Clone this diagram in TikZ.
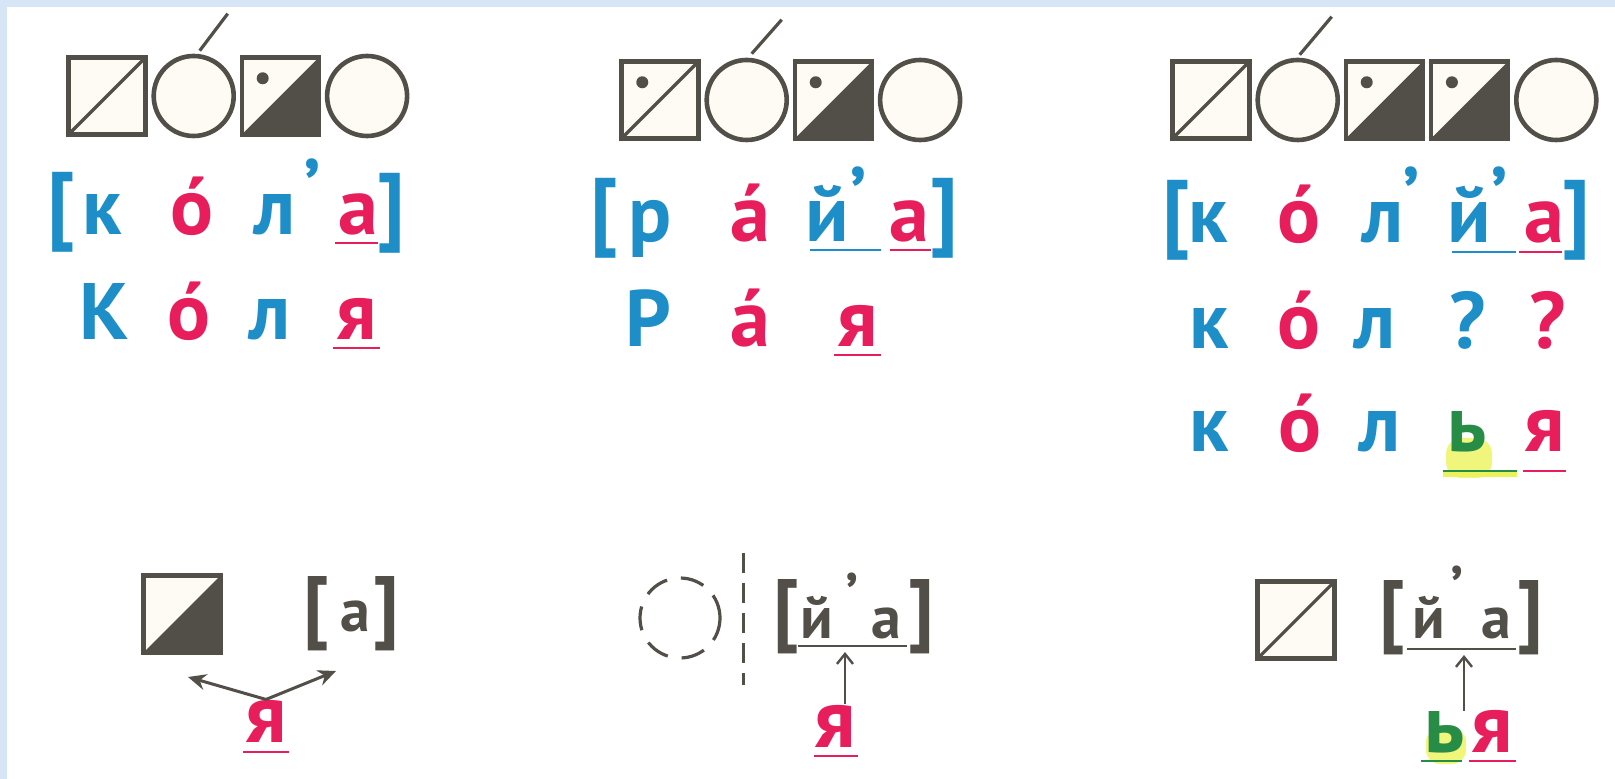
\documentclass[tikz,border=0pt]{standalone}
\usepackage{fontspec}
\setmainfont{PT Sans}
\usepackage{tikz}
\usetikzlibrary{calc,positioning,arrows.meta}
\definecolor{myblue}{RGB}{30,142,200}
\definecolor{myred}{RGB}{232,30,92}
\definecolor{mygreen}{RGB}{38,140,70}
\definecolor{myyellow}{RGB}{236,242,90}
\definecolor{mygray}{RGB}{82,78,72}
\definecolor{mycream}{RGB}{253,251,243}
\definecolor{lightblue}{RGB}{214,230,247}

\tikzset{
  cons/.style={draw=mygray, line width=2.3pt, fill=mycream, minimum size=38.5pt, inner sep=0pt},
  consl/.style={cons, path picture={\draw[mygray, line width=1.6pt] (path picture bounding box.south west) -- (path picture bounding box.north east);}},
  consd/.style={cons, path picture={\fill[mygray] (path picture bounding box.south west) -- (path picture bounding box.north east) -- (path picture bounding box.south east) -- cycle;}},
  consls/.style={cons, path picture={\draw[mygray, line width=1.6pt] (path picture bounding box.south west) -- (path picture bounding box.north east);
    \fill[mygray] ($(path picture bounding box.north west)!0.27!(path picture bounding box.south east)$) circle (3pt);}},
  consds/.style={cons, path picture={\fill[mygray] (path picture bounding box.south west) -- (path picture bounding box.north east) -- (path picture bounding box.south east) -- cycle;
    \fill[mygray] ($(path picture bounding box.north west)!0.27!(path picture bounding box.south east)$) circle (3pt);}},
  vowc/.style={circle, draw=mygray, line width=2.3pt, fill=mycream, minimum size=40pt, inner sep=0pt},
  vowd/.style={circle, draw=mygray, line width=1.6pt, dash pattern=on 12pt off 7pt, minimum size=40pt, inner sep=0pt},
  stress/.style={draw=mygray, line width=1.6pt},
  ltr/.style={inner sep=0pt, anchor=base, font=\fontsize{40}{42}\selectfont\bfseries},
  lb/.style={ltr, text=myblue},
  lr/.style={ltr, text=myred},
  lg/.style={ltr, text=mygreen},
  brk/.style={inner sep=0pt, text=myblue, font=\fontsize{43}{46}\selectfont\bfseries},
  soft/.style={inner sep=0pt, anchor=north, text=myblue, font=\fontsize{40}{42}\selectfont\bfseries},
  gltr/.style={inner sep=0pt, anchor=base, text=mygray, font=\fontsize{30}{32}\selectfont\bfseries},
  gbrk/.style={inner sep=0pt, text=mygray, font=\fontsize{40}{42}\selectfont\bfseries},
  gsoft/.style={inner sep=0pt, anchor=north, text=mygray, font=\fontsize{30}{32}\selectfont\bfseries},
  bltr/.style={inner sep=0pt, anchor=base, font=\fontsize{41}{44}\selectfont\bfseries},
  uline/.style={line width=1.3pt},
}

\begin{document}
\begin{tikzpicture}[x=0.5pt, y=-0.5pt, >=Stealth]
  \useasboundingbox (0,0) rectangle (1615,779);
  \fill[white] (0,0) rectangle (1615,779);
  \fill[lightblue] (0,0) rectangle (1615,7);
  \fill[lightblue] (0,0) rectangle (7,779);

  % schemes
  \node[consl] (g1a) at (107,96) {};
  \node[vowc, right=1.8pt of g1a] (g1b) {};
  \node[consds, right=1.8pt of g1b] (g1c) {};
  \node[vowc, right=1.8pt of g1c] (g1d) {};
  \draw[stress] ($(g1b.north)+(6,-3)$) -- ++(28,-37);

  \node[consls] (g2a) at (660,100) {};
  \node[vowc, right=1.8pt of g2a] (g2b) {};
  \node[consds, right=1.8pt of g2b] (g2c) {};
  \node[vowc, right=1.8pt of g2c] (g2d) {};
  \draw[stress] ($(g2b.north)+(5,-4)$) -- ++(30,-34);

  \node[consl] (g3a) at (1211,100) {};
  \node[vowc, right=1.8pt of g3a] (g3b) {};
  \node[consds, right=1.8pt of g3b] (g3c) {};
  \node[consds, right=1.8pt of g3c] (g3d) {};
  \node[vowc, right=1.8pt of g3d] (g3e) {};
  \draw[stress] ($(g3b.north)+(2,-3)$) -- ++(32,-38);

  % [к о л'а]  Коля
  \node[brk] (g1l) at (61,212) {[};
  \node[lb] (g1k) at (102,235) {к};
  \node[lr] (g1o) at (192,235) {о́};
  \node[lb] (g1n) at (275,235) {л};
  \node[soft] (g1s) at (312,158) {’};
  \node[lr] (g1v) at (358,235) {а};
  \node[brk] (g1r) at (391,213) {]};
  \draw[uline, myred] (335,243) -- (378,243);
  \node[lb] (w1k) at (104,340) {К};
  \node[lr] (w1o) at (189,340) {о́};
  \node[lb] (w1n) at (270,340) {л};
  \node[lr] (w1y) at (357,340) {я};
  \draw[uline, myred] (333,348) -- (380,348);

  % [р а й'а]  Рая
  \node[brk] (g2l) at (604,218) {[};
  \node[lb] (g2p) at (650,242) {р};
  \node[lr] (g2o) at (750,242) {а́};
  \node[lb] (g2j) at (827,242) {й};
  \node[soft] (g2s) at (858,166) {’};
  \node[lr] (g2v) at (909,242) {а};
  \node[brk] (g2r) at (944,218) {]};
  \draw[uline, myblue] (810,250) -- (881,250);
  \draw[uline, myred] (890,250) -- (931,250);
  \node[lb] (w2p) at (648,347) {Р};
  \node[lr] (w2o) at (750,347) {а́};
  \node[lr] (w2y) at (858,347) {я};
  \draw[uline, myred] (834,355) -- (881,355);

  % [к о л'й'а]  кол??  колья
  \node[brk] (g3l) at (1176,220) {[};
  \node[lb] (g3k) at (1208,243) {к};
  \node[lr] (g3o) at (1299,243) {о́};
  \node[lb] (g3n) at (1383,243) {л};
  \node[soft] (g3s) at (1411,166) {’};
  \node[lb] (g3j) at (1469,243) {й};
  \node[soft] (g3t) at (1499,166) {’};
  \node[lr] (g3v) at (1544,243) {а};
  \node[brk] (g3r) at (1576,220) {]};
  \draw[uline, myblue] (1452,252) -- (1516,252);
  \draw[uline, myred] (1519,252) -- (1562,252);
  \node[lb] (q3k) at (1209,349) {к};
  \node[lr] (q3o) at (1299,349) {о́};
  \node[lb] (q3n) at (1375,349) {л};
  \node[lb] (q3a) at (1468,349) {?};
  \node[lr] (q3b) at (1548,349) {?};
  \fill[myyellow!80, rounded corners=8pt] (1446,438) rectangle (1492,478);
  \node[lb] (w3k) at (1209,452) {к};
  \node[lr] (w3o) at (1300,452) {о́};
  \node[lb] (w3n) at (1380,452) {л};
  \node[lg] (w3m) at (1467,452) {ь};
  \node[lr] (w3y) at (1545,452) {я};
  \draw[line width=3pt, myyellow] (1443,474) -- (1517,474);
  \draw[uline, mygreen] (1443,471) -- (1517,471);
  \draw[uline, myred] (1523,471) -- (1566,471);

  % bottom: я = two sounds
  \node[consd] (b1a) at (182,614) {};
  \node[gbrk] (b1l) at (316,614) {[};
  \node[gltr] (b1v) at (355,632) {а};
  \node[gbrk] (b1r) at (386,614) {]};
  \node[bltr, text=myred] (b1y) at (266,742) {я};
  \draw[uline, myred] (243,752) -- (289,752);
  \coordinate (b1p) at (188,677);
  \coordinate (b1q) at (336,671);
  % arrows
  \draw[->, mygray, line width=1.5pt, >={Stealth[length=9pt,width=8pt]}] (b1y.north) -- (b1p);
  \draw[->, mygray, line width=1.5pt, >={Stealth[length=9pt,width=8pt]}] (b1y.north) -- (b1q);

  % bottom: я after a vowel
  \node[vowd] (b2a) at (680,618) {};
  \draw[mygray, line width=1.5pt, dash pattern=on 10pt off 5pt] (743,553) -- (743,685);
  \node[gbrk] (b2l) at (786,617) {[};
  \node[gltr] (b2j) at (817,639) {й};
  \node[gsoft] (b2s) at (852,573) {’};
  \node[gltr] (b2v) at (886,639) {а};
  \node[gbrk] (b2r) at (921,617) {]};
  \draw[uline, mygray] (798,646) -- (907,646);
  \node[bltr, text=myred] (b2y) at (835,747) {я};
  \draw[uline, myred] (814,756) -- (858,756);
  \coordinate (b2u) at (845,652);
  \draw[->, mygray, line width=1.2pt, >={Straight Barb[length=5pt,width=8pt]}] (b2y.north -| b2u) -- (b2u);

  % bottom: ья after a consonant
  \node[consl] (b3a) at (1296,620) {};
  \node[gbrk] (b3l) at (1392,618) {[};
  \node[gltr] (b3j) at (1429,639) {й};
  \node[gsoft] (b3s) at (1457,566) {’};
  \node[gltr] (b3v) at (1496,639) {а};
  \node[gbrk] (b3r) at (1530,618) {]};
  \draw[uline, mygray] (1407,649) -- (1516,649);
  \fill[myyellow!80, rounded corners=7pt] (1426,728) rectangle (1466,764);
  \node[bltr, text=mygreen] (b3m) at (1445,752) {ь};
  \node[bltr, text=myred] (b3y) at (1492,752) {я};
  \draw[uline, mygreen] (1421,761) -- (1462,761);
  \draw[uline, myred] (1469,761) -- (1516,761);
  \coordinate (b3u) at (1464,655);
  \draw[->, mygray, line width=1.2pt, >={Straight Barb[length=5pt,width=8pt]}] (b3m.north -| b3u) -- (b3u);
\end{tikzpicture}
\end{document}
